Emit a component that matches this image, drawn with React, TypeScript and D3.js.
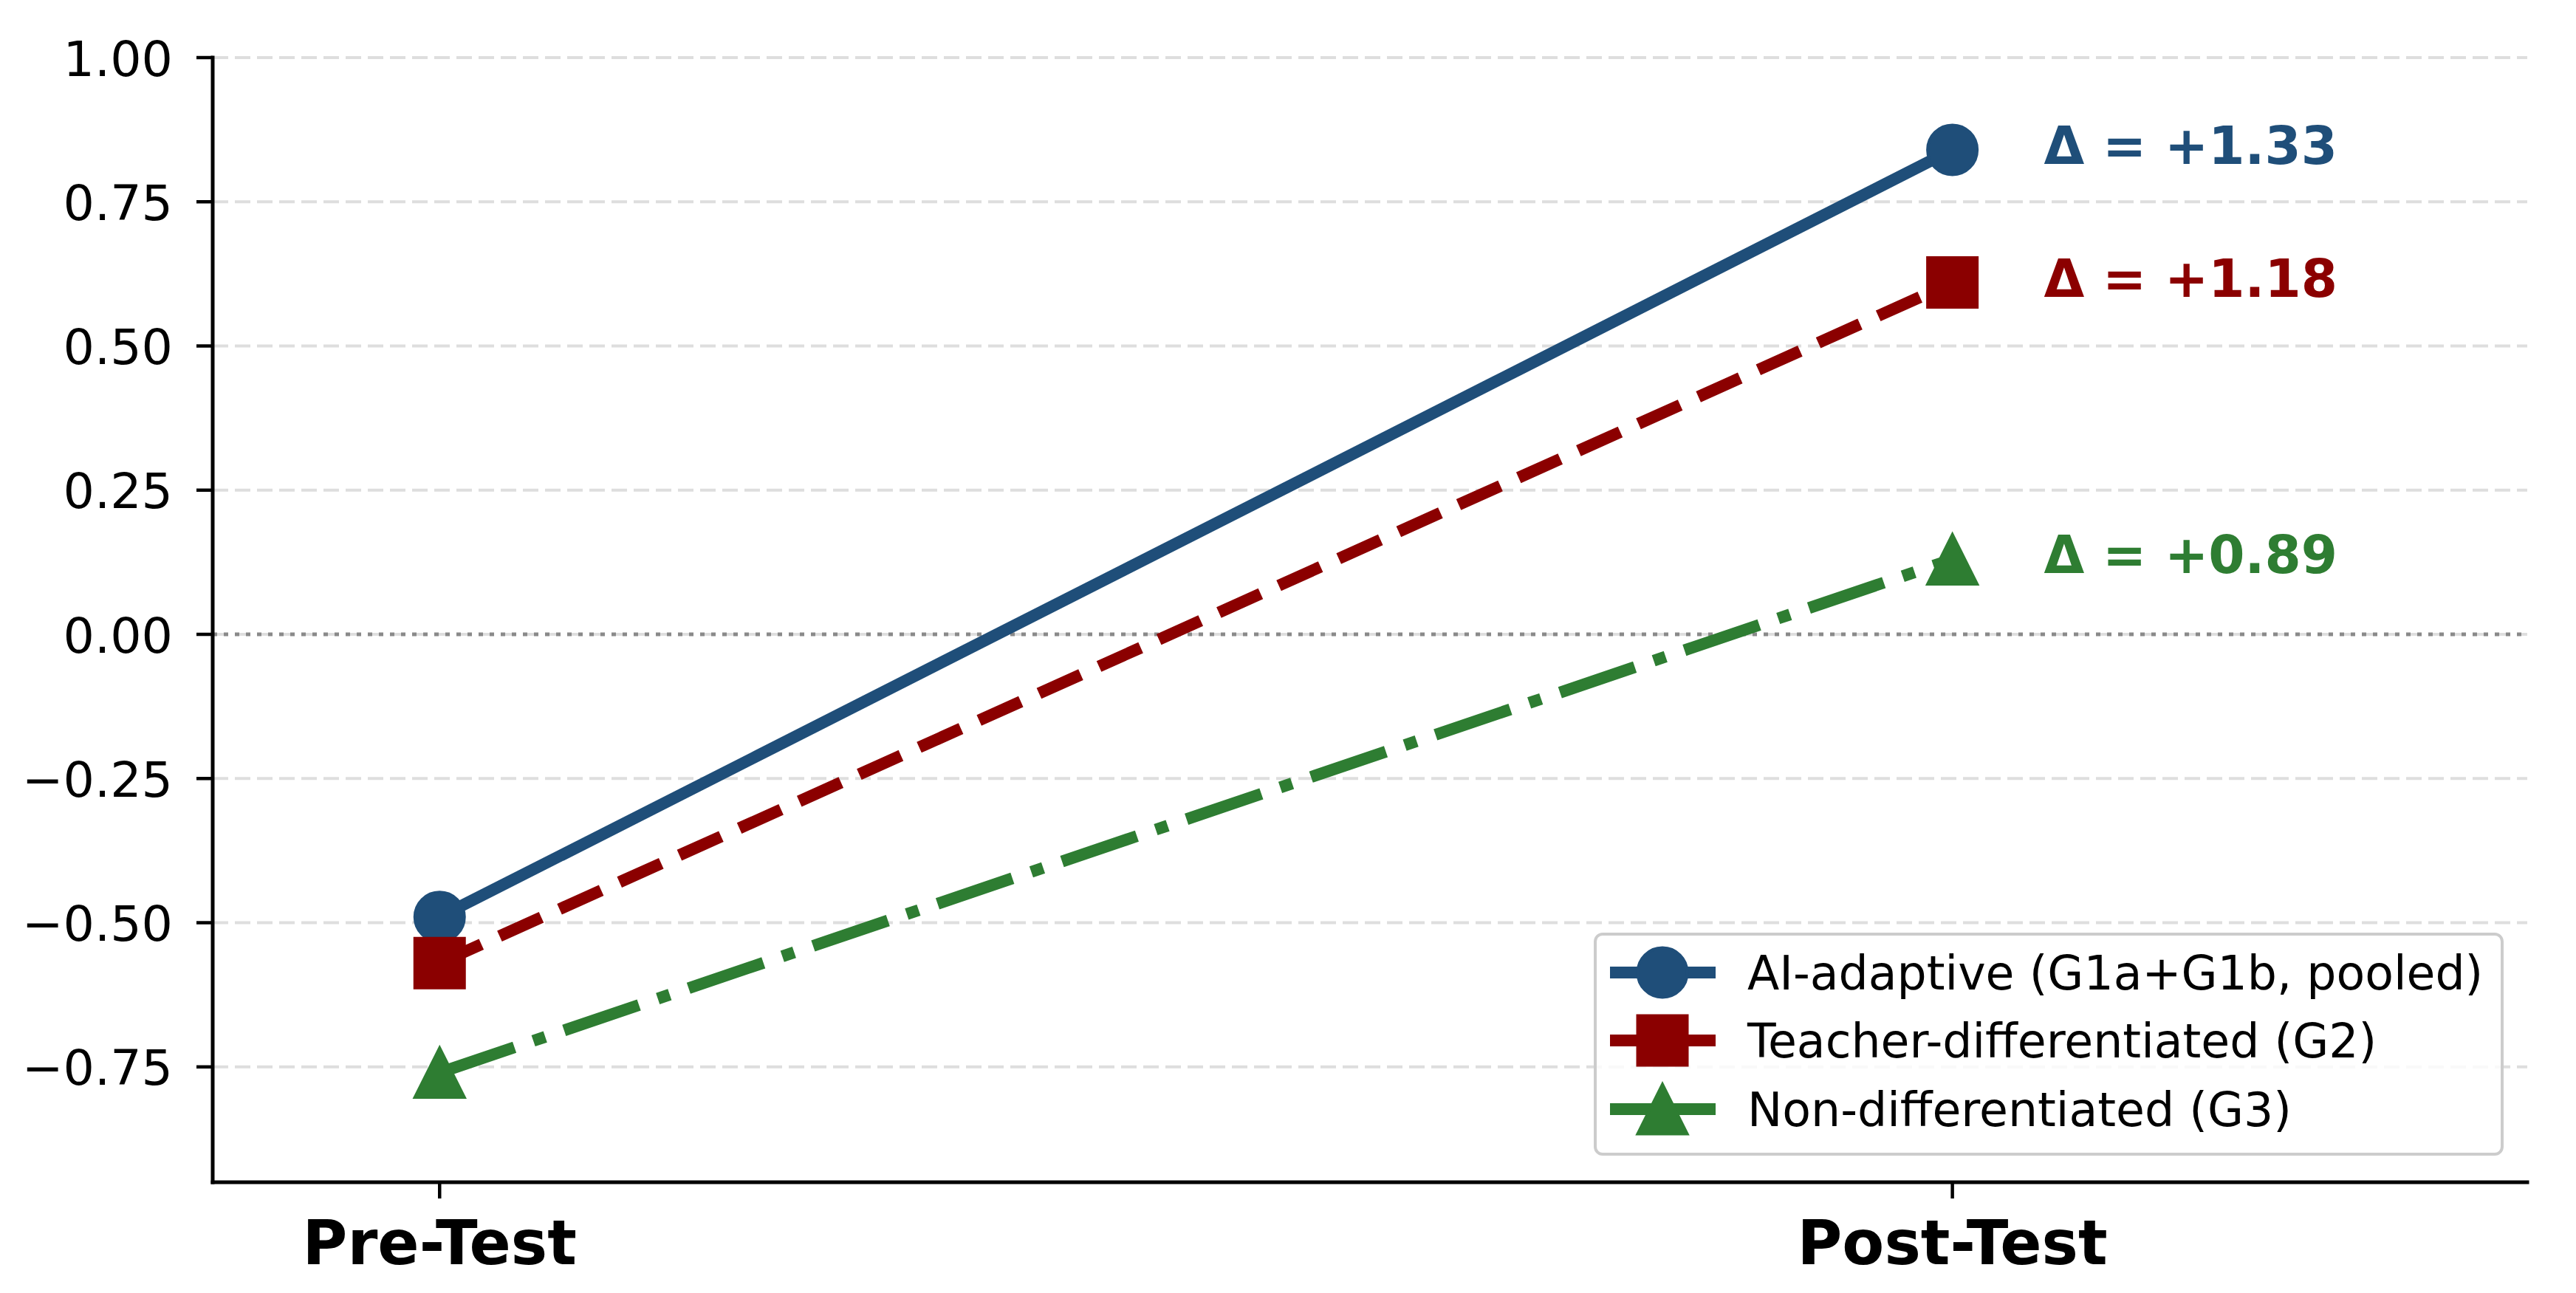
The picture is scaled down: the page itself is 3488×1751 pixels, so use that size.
import * as d3 from "d3";

// phases on the x axis
const phases = ["Pre-Test", "Post-Test"];

// group labels (legend)
const groupLabels = [
  "AI-adaptive (G1a+G1b, pooled)",
  "Teacher-differentiated (G2)",
  "Non-differentiated (G3)",
];

// standardized scores, pre / post
const aiAdaptive = [-0.49, 0.84];
const teacherDiff = [-0.57, 0.61];
const nonDiff = [-0.76, 0.13];

// gain annotations
const gainLabels = ["+1.33", "+1.18", "+0.89"];

const yTicks = [-0.75, -0.5, -0.25, 0, 0.25, 0.5, 0.75, 1.0];

const W = 3488;
const H = 1751;
const FONT = "DejaVu Sans, sans-serif";

const x = d3.scaleLinear().domain([-0.15, 1.38]).range([288, 3422]);
const y = d3.scaleLinear().domain([-0.95, 1.0]).range([1601, 78]);

const LW = 16;
const MS = 67; // marker size in px (plus edge)

const styles = [
  { color: "#1F4E79", dash: null, marker: "circle" },
  { color: "#8B0000", dash: "62 27", marker: "square" },
  { color: "#2E7D32", dash: "107 27 17 27", marker: "triangle" },
];

const seriesValues = [aiAdaptive, teacherDiff, nonDiff];

function markerPath(kind: string, cx: number, cy: number, s: number) {
  const h = s / 2;
  if (kind === "circle") {
    const p = d3.path();
    p.arc(cx, cy, h, 0, Math.PI * 2);
    p.closePath();
    return p.toString();
  }
  if (kind === "square") {
    return `M${cx - h},${cy - h}H${cx + h}V${cy + h}H${cx - h}Z`;
  }
  return `M${cx},${cy - h}L${cx + h},${cy + h}L${cx - h},${cy + h}Z`;
}

const fmt = (v: number) => d3.format(".2f")(v).replace("-", "\u2212");

export default function App() {
  const line = d3
    .line<number>()
    .x((_, i) => x(i))
    .y((d) => y(d));

  const legX = 2160;
  const legY = 1265;
  const legW = 1228;
  const legH = 298;
  const rowY = [1317, 1409, 1502];

  return (
    <div>
      <style>{"body{margin:0}"}</style>
      <svg width={W} height={H} style={{ display: "block", background: "#fff" }} fontFamily={FONT}>
        {/* grid */}
        {yTicks.map((t) => (
          <line
            key={"g" + t}
            x1={x.range()[0]}
            x2={x.range()[1]}
            y1={y(t)}
            y2={y(t)}
            stroke="#dedede"
            strokeWidth={4}
            strokeDasharray="21 9"
          />
        ))}
        {/* zero reference */}
        <line
          x1={x.range()[0]}
          x2={x.range()[1]}
          y1={y(0)}
          y2={y(0)}
          stroke="#8a8a8a"
          strokeWidth={5}
          strokeDasharray="6 9"
        />

        {/* series */}
        {seriesValues.map((vals, si) => {
          const st = styles[si];
          return (
            <g key={"s" + si}>
              <path
                d={line(vals) ?? ""}
                fill="none"
                stroke={st.color}
                strokeWidth={LW}
                strokeDasharray={st.dash ?? undefined}
              />
              {vals.map((v, i) => (
                <path
                  key={i}
                  d={markerPath(st.marker, x(i), y(v), MS)}
                  fill={st.color}
                  stroke={st.color}
                  strokeWidth={4}
                  strokeLinejoin="miter"
                />
              ))}
            </g>
          );
        })}

        {/* gain annotations */}
        {seriesValues.map((vals, si) => (
          <text
            key={"a" + si}
            x={x(1) + 124}
            y={y(vals[1]) + 19}
            fill={styles[si].color}
            fontSize={70.8}
            fontWeight="bold"
          >
            {"\u0394 = " + gainLabels[si]}
          </text>
        ))}

        {/* spines */}
        <line x1={x.range()[0]} x2={x.range()[0]} y1={y.range()[1]} y2={y.range()[0]} stroke="#000" strokeWidth={5} strokeLinecap="square" />
        <line x1={x.range()[0]} x2={x.range()[1]} y1={y.range()[0]} y2={y.range()[0]} stroke="#000" strokeWidth={5} strokeLinecap="square" />

        {/* y ticks */}
        {yTicks.map((t) => (
          <g key={"yt" + t}>
            <line x1={x.range()[0] - 22} x2={x.range()[0]} y1={y(t)} y2={y(t)} stroke="#000" strokeWidth={4.5} />
            <text x={234} y={y(t) + 24.5} textAnchor="end" fontSize={66.7} fill="#000">
              {fmt(t)}
            </text>
          </g>
        ))}

        {/* x ticks */}
        {phases.map((p, i) => (
          <g key={"xt" + p}>
            <line x1={x(i)} x2={x(i)} y1={y.range()[0]} y2={y.range()[0] + 22} stroke="#000" strokeWidth={4.5} />
            <text x={x(i)} y={1712} textAnchor="middle" fontSize={83} fontWeight="bold" fill="#000">
              {p}
            </text>
          </g>
        ))}

        {/* legend */}
        <rect
          x={legX}
          y={legY}
          width={legW}
          height={legH}
          rx={10}
          fill="#fff"
          fillOpacity={0.8}
          stroke="#cccccc"
          strokeWidth={4}
        />
        {groupLabels.map((lab, i) => (
          <g key={"l" + i}>
            <line x1={2180} x2={2323} y1={rowY[i]} y2={rowY[i]} stroke={styles[i].color} strokeWidth={LW} />
            <path
              d={markerPath(styles[i].marker, 2251, rowY[i], MS)}
              fill={styles[i].color}
              stroke={styles[i].color}
              strokeWidth={4}
            />
            <text x={2366} y={rowY[i] + 22.5} fontSize={63.3} fill="#000">
              {lab}
            </text>
          </g>
        ))}
      </svg>
    </div>
  );
}
